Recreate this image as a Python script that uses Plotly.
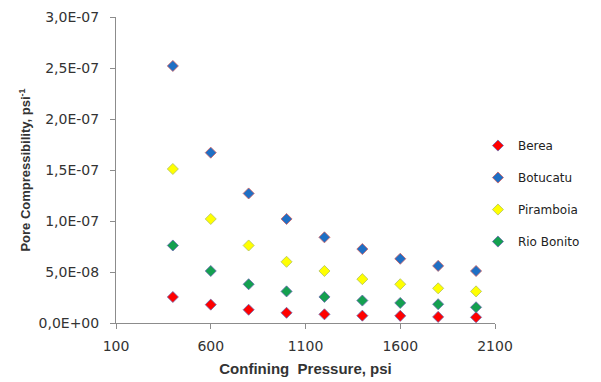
import plotly.graph_objects as go

pressure = [400, 600, 800, 1000, 1200, 1400, 1600, 1800, 2000]
berea = [2.55e-8, 1.8e-8, 1.3e-8, 1.0e-8, 0.85e-8, 0.72e-8, 0.7e-8, 0.6e-8, 0.56e-8]
botucatu = [2.52e-7, 1.67e-7, 1.27e-7, 1.02e-7, 8.4e-8, 7.25e-8, 6.3e-8, 5.6e-8, 5.1e-8]
piramboia = [1.51e-7, 1.02e-7, 7.6e-8, 6.0e-8, 5.1e-8, 4.3e-8, 3.8e-8, 3.4e-8, 3.1e-8]
rio_bonito = [7.6e-8, 5.1e-8, 3.8e-8, 3.1e-8, 2.56e-8, 2.2e-8, 1.97e-8, 1.84e-8, 1.54e-8]

series_names = ["Berea", "Botucatu", "Piramboia", "Rio Bonito"]
series_vals = [berea, botucatu, piramboia, rio_bonito]
colors = ["#FF0000", "#1F6FC4", "#FFFF00", "#14A050"]
outlines = ["#6A6AB0", "#D06060", "#B0C060", "#6A6AB0"]

y_ticks = [0, 5e-8, 1e-7, 1.5e-7, 2e-7, 2.5e-7, 3e-7]
y_ticktext = ["0,0E+00", "5,0E-08", "1,0E-07", "1,5E-07", "2,0E-07", "2,5E-07", "3,0E-07"]
x_ticks = [100, 600, 1100, 1600, 2100]

fig = go.Figure()
for name, vals, c, oc in zip(series_names, series_vals, colors, outlines):
    fig.add_trace(go.Scatter(
        x=pressure, y=vals, mode="markers", name=name, legendgroup=name,
        marker=dict(symbol="diamond", size=8.5, color=c, line=dict(color=oc, width=0.8)),
    ))

fnt = "DejaVu Sans"
bold = "Liberation Sans"
fig.update_layout(
    width=601, height=382,
    margin=dict(l=116, r=106, t=17, b=59, autoexpand=False),
    paper_bgcolor="white", plot_bgcolor="white",
    font=dict(family=fnt, size=12, color="#333333"),
    showlegend=True,
    legend=dict(x=0.955, xanchor="left", y=0.423, yanchor="middle",
                font=dict(family=fnt, size=12, color="#222222"),
                tracegroupgap=13, itemwidth=30,
                bgcolor="rgba(0,0,0,0)"),
    xaxis=dict(range=[100, 2100], tickvals=x_ticks, showgrid=False, zeroline=False,
               showline=True, linecolor="#8C8C8C", linewidth=1,
               ticks="outside", ticklen=5, tickcolor="#8C8C8C", ticklabelstandoff=5,
               tickfont=dict(family=fnt, size=14, color="#333333"),
               title=dict(text="<b>Confining  Pressure, psi</b>",
                          font=dict(family=bold, size=15, color="#333333"), standoff=10)),
    yaxis=dict(range=[0, 3e-7], tickvals=y_ticks, ticktext=y_ticktext, showgrid=False, zeroline=False,
               showline=True, linecolor="#8C8C8C", linewidth=1,
               ticks="outside", ticklen=5, tickcolor="#8C8C8C", ticklabelstandoff=8,
               tickfont=dict(family=fnt, size=14, color="#333333"),
               title=dict(text="<b>Pore Compressibility, psi<sup>-1</sup></b>",
                          font=dict(family=bold, size=13, color="#333333"), standoff=4)),
)

fig.write_html("out.html")
